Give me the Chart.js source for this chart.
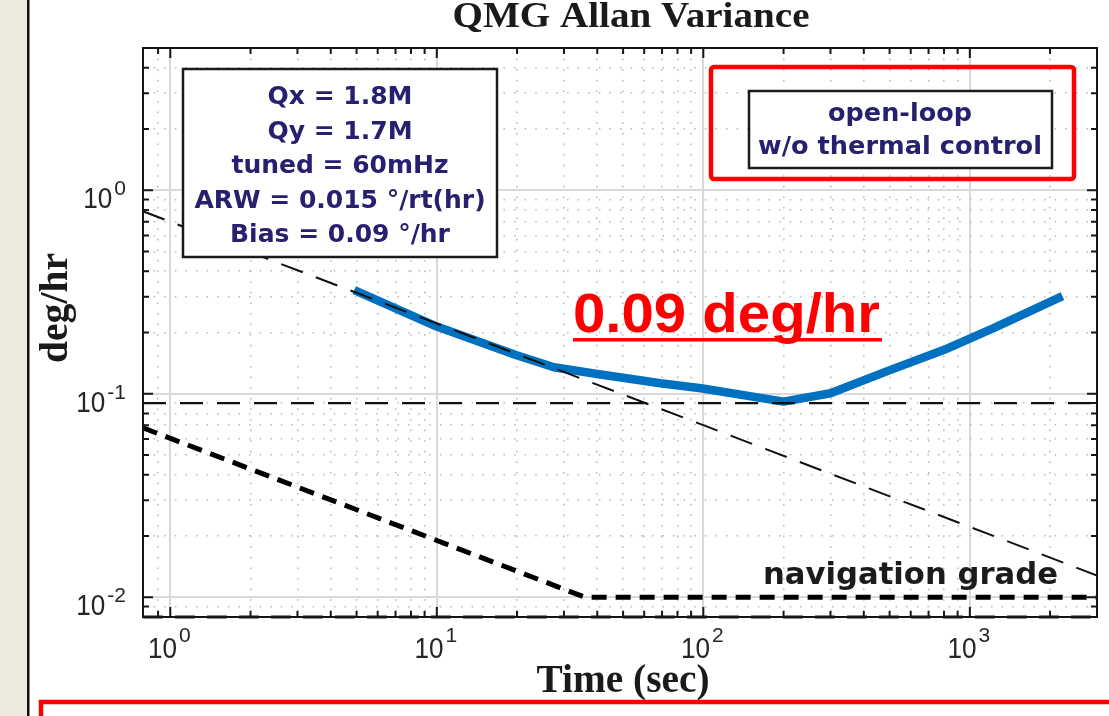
<!DOCTYPE html>
<html>
<head>
<meta charset="utf-8">
<script src="https://cdn.jsdelivr.net/npm/chart.js@4.4.1/dist/chart.umd.min.js"></script>
<style>
html,body{margin:0;padding:0;background:#fff;overflow:hidden}
canvas{display:block}
</style>
</head>
<body>
<canvas id="c" width="1109" height="716"></canvas>
<script>
// ---------- data ----------
const blueTimes     = [4.9, 10, 19.8, 27.5, 40, 69, 98, 200, 300, 504, 797, 1227, 2226];
const blueDeviation = [0.323, 0.214, 0.155, 0.135, 0.125, 0.1126, 0.1064, 0.0915, 0.1006, 0.131, 0.164, 0.210, 0.302];

const arwTimes      = [0.79, 3000];
const arwDeviation  = [0.788, 0.0128];

const biasTimes     = [0.79, 3000];
const biasDeviation = [0.09, 0.09];

const navTimes      = [0.79, 36, 3000];
const navDeviation  = [0.068, 0.01, 0.01];

const xRange = [0.79, 3000];
const yRange = [0.008, 5];

const xTickValues = [0.9, 1, 2, 3, 4, 5, 6, 7, 8, 9, 10, 20, 30, 40, 50, 60, 70, 80, 90,
                     100, 200, 300, 400, 500, 600, 700, 800, 900, 1000, 2000];
const yTickValues = [0.009, 0.01, 0.02, 0.03, 0.04, 0.05, 0.06, 0.07, 0.08, 0.09,
                     0.1, 0.2, 0.3, 0.4, 0.5, 0.6, 0.7, 0.8, 0.9, 1, 2, 3, 4];
const xLabelValues = [1, 10, 100, 1000];
const xLabelBase   = ['10', '10', '10', '10'];
const xLabelExp    = ['0', '1', '2', '3'];
const yLabelValues = [0.01, 0.1, 1];
const yLabelBase   = ['10', '10', '10'];
const yLabelExp    = ['-2', '-1', '0'];

const titleText   = 'QMG Allan Variance';
const xTitleText  = 'Time (sec)';
const yTitleText  = 'deg/hr';
const infoLines   = ['Qx = 1.8M', 'Qy = 1.7M', 'tuned = 60mHz', 'ARW = 0.015 \u00B0/rt(hr)', 'Bias = 0.09 \u00B0/hr'];
const modeLines   = ['open-loop', 'w/o thermal control'];
const calloutText = '0.09 deg/hr';
const gradeText   = 'navigation grade';

// ---------- helpers ----------
const SANS = "'Liberation Sans', Arial, sans-serif";
const SERIF = "'Liberation Serif', 'Times New Roman', serif";
const DEJA = "'DejaVu Sans', Verdana, sans-serif";
const NAVY = '#26206f';

function isMajor(v) {
  const l = Math.log10(v);
  return Math.abs(l - Math.round(l)) < 1e-9;
}
function toPoints(xs, ys) { return xs.map((x, i) => ({x: x, y: ys[i]})); }

function drawText(ctx, s, x, y, font, color, align, width, sxFixed) {
  ctx.save();
  ctx.font = font;
  ctx.fillStyle = color;
  ctx.textBaseline = 'alphabetic';
  ctx.textAlign = 'left';
  const w = ctx.measureText(s).width;
  const sx = width ? width / w : (sxFixed || 1);
  const tw = w * sx;
  const x0 = align === 'center' ? x - tw / 2 : (align === 'right' ? x - tw : x);
  ctx.translate(x0, y);
  ctx.scale(sx, 1);
  ctx.fillText(s, 0, 0);
  ctx.restore();
  return tw;
}
function measure(ctx, s, font, sx) {
  ctx.save(); ctx.font = font; const w = ctx.measureText(s).width * (sx || 1); ctx.restore(); return w;
}

const BASE_FONT = "29px " + SANS, BASE_SX = 0.9;
const EXP_FONT = "21px " + SANS, EXP_SX = 1.0;
const TICK_COLOR = '#262626';

const decorPlugin = {
  id: 'decor',
  beforeDraw(chart) {
    const ctx = chart.ctx;
    ctx.save();
    ctx.fillStyle = '#ffffff';
    ctx.fillRect(0, 0, chart.width, chart.height);
    ctx.fillStyle = '#ece9df';
    ctx.fillRect(0, 0, 27, chart.height);
    ctx.fillStyle = '#111';
    ctx.fillRect(27, 0, 2.5, chart.height);
    ctx.restore();
  },
  afterDatasetsDraw(chart) {
    const ctx = chart.ctx;
    const a = chart.chartArea;
    const xs = chart.scales.x, ys = chart.scales.y;

    // axes frame
    ctx.save();
    ctx.strokeStyle = '#161616';
    ctx.lineWidth = 2;
    ctx.strokeRect(a.left, a.top, a.right - a.left, a.bottom - a.top);

    // thick dashed run along the bottom edge
    ctx.lineWidth = 3;
    ctx.setLineDash([20, 12]);
    ctx.beginPath();
    ctx.moveTo(a.left, a.bottom);
    ctx.lineTo(a.right, a.bottom);
    ctx.stroke();
    ctx.setLineDash([]);

    // inward tick marks on all four sides
    ctx.lineWidth = 2;
    ctx.beginPath();
    xTickValues.forEach(v => {
      const px = xs.getPixelForValue(v);
      const len = isMajor(v) ? 10 : 6;
      ctx.moveTo(px, a.bottom); ctx.lineTo(px, a.bottom - len);
      ctx.moveTo(px, a.top); ctx.lineTo(px, a.top + len);
    });
    yTickValues.forEach(v => {
      const py = ys.getPixelForValue(v);
      const len = isMajor(v) ? 10 : 6;
      ctx.moveTo(a.left, py); ctx.lineTo(a.left + len, py);
      ctx.moveTo(a.right, py); ctx.lineTo(a.right - len, py);
    });
    ctx.stroke();
    ctx.restore();

    // tick labels (10 with superscript exponent)
    xLabelValues.forEach((v, i) => {
      const px = xs.getPixelForValue(v);
      const bw = measure(ctx, xLabelBase[i], BASE_FONT, BASE_SX);
      const ew = measure(ctx, xLabelExp[i], EXP_FONT, EXP_SX);
      const left = px - (bw + 2 + ew) / 2 - 1;
      drawText(ctx, xLabelBase[i], left, 658, BASE_FONT, TICK_COLOR, 'left', 0, BASE_SX);
      drawText(ctx, xLabelExp[i], left + bw + 2, 642, EXP_FONT, TICK_COLOR, 'left', 0, EXP_SX);
    });
    yLabelValues.forEach((v, i) => {
      const py = ys.getPixelForValue(v);
      const ew = measure(ctx, yLabelExp[i], EXP_FONT, EXP_SX);
      const right = 126;
      drawText(ctx, yLabelExp[i], right - ew, py + 5, EXP_FONT, TICK_COLOR, 'left', 0, EXP_SX);
      drawText(ctx, yLabelBase[i], right - ew - 2, py + 18, BASE_FONT, TICK_COLOR, 'right', 0, BASE_SX);
    });

    // title and axis titles
    drawText(ctx, titleText, 631, 27, "bold 36px " + SERIF, '#1a1a1a', 'center', 357);
    drawText(ctx, xTitleText, 623, 692, "bold 39px " + SERIF, '#1a1a1a', 'center', 173);
    ctx.save();
    ctx.translate(67, 308);
    ctx.rotate(-Math.PI / 2);
    drawText(ctx, yTitleText, 0, 0, "bold 39px " + SERIF, '#1a1a1a', 'center', 110);
    ctx.restore();

    // info box (top-left)
    ctx.save();
    ctx.fillStyle = '#ffffff';
    ctx.fillRect(183, 69, 314, 188);
    ctx.strokeStyle = '#1a1a1a';
    ctx.lineWidth = 2.5;
    ctx.strokeRect(183, 69, 314, 188);
    ctx.restore();
    const infoBase = [104, 138.5, 173, 208, 242];
    infoLines.forEach((s, i) => drawText(ctx, s, 340, infoBase[i], "bold 25px " + DEJA, NAVY, 'center'));

    // mode box (top-right) with red frame
    ctx.save();
    ctx.strokeStyle = '#ff0000';
    ctx.lineWidth = 4.5;
    ctx.beginPath();
    if (ctx.roundRect) ctx.roundRect(711, 67, 363, 112, 3); else ctx.rect(711, 67, 363, 112);
    ctx.stroke();
    ctx.fillStyle = '#ffffff';
    ctx.fillRect(749, 91, 303, 77);
    ctx.strokeStyle = '#1a1a1a';
    ctx.lineWidth = 2.5;
    ctx.strokeRect(749, 91, 303, 77);
    ctx.restore();
    drawText(ctx, modeLines[0], 900, 121, "bold 25.5px " + DEJA, NAVY, 'center');
    drawText(ctx, modeLines[1], 900, 154, "bold 25.5px " + DEJA, NAVY, 'center', 284);

    // red callout
    drawText(ctx, calloutText, 573, 332, "bold 56px " + SANS, '#ff0000', 'left', 307);
    ctx.save();
    ctx.fillStyle = '#ff0000';
    ctx.fillRect(573, 338, 309, 3.5);
    ctx.restore();

    // navigation grade label
    drawText(ctx, gradeText, 763, 584, "bold 31px " + DEJA, '#1c1a1a', 'left', 295);
  },
  afterDraw(chart) {
    const ctx = chart.ctx;
    ctx.save();
    ctx.strokeStyle = '#ff0000';
    ctx.lineWidth = 4.5;
    ctx.beginPath();
    ctx.moveTo(41, chart.height + 10);
    ctx.lineTo(41, 702);
    ctx.lineTo(chart.width + 10, 702);
    ctx.stroke();
    ctx.restore();
  }
};

function gridOpts() {
  return {
    drawTicks: false,
    color: c => isMajor(c.tick.value) ? '#d9d9d9' : '#bcbcbc',
    lineWidth: c => isMajor(c.tick.value) ? 2 : 1.6
  };
}
function borderOpts() {
  return {
    display: false,
    dash: c => (c.tick && isMajor(c.tick.value)) ? [] : [1.6, 9]
  };
}

new Chart(document.getElementById('c'), {
  type: 'line',
  data: {
    datasets: [
      { label: 'Allan deviation', data: toPoints(blueTimes, blueDeviation),
        borderColor: '#0070c0', borderWidth: 8.5, pointRadius: 0, tension: 0,
        borderJoinStyle: 'round', order: 10 },
      { label: 'ARW slope', data: toPoints(arwTimes, arwDeviation),
        borderColor: '#111111', borderWidth: 2, borderDash: [23, 14], pointRadius: 0, order: 1 },
      { label: 'Bias instability', data: toPoints(biasTimes, biasDeviation),
        borderColor: '#111111', borderWidth: 2.2, borderDash: [23, 14], pointRadius: 0, order: 1 },
      { label: 'navigation grade', data: toPoints(navTimes, navDeviation),
        borderColor: '#000000', borderWidth: 5, borderDash: [15, 9], pointRadius: 0, order: 1 }
    ]
  },
  options: {
    responsive: false,
    animation: false,
    devicePixelRatio: 1,
    layout: { padding: { left: 143, right: 12, top: 48, bottom: 99 } },
    plugins: { legend: { display: false }, tooltip: { enabled: false }, title: { display: false } },
    scales: {
      x: {
        type: 'logarithmic', min: xRange[0], max: xRange[1],
        afterBuildTicks: s => { s.ticks = xTickValues.map(v => ({ value: v })); },
        afterFit: s => { s.height = 0; },
        ticks: { display: false },
        grid: gridOpts(),
        border: borderOpts()
      },
      y: {
        type: 'logarithmic', min: yRange[0], max: yRange[1],
        afterBuildTicks: s => { s.ticks = yTickValues.map(v => ({ value: v })); },
        afterFit: s => { s.width = 0; },
        ticks: { display: false },
        grid: gridOpts(),
        border: borderOpts()
      }
    }
  },
  plugins: [decorPlugin]
});
</script>
</body>
</html>
